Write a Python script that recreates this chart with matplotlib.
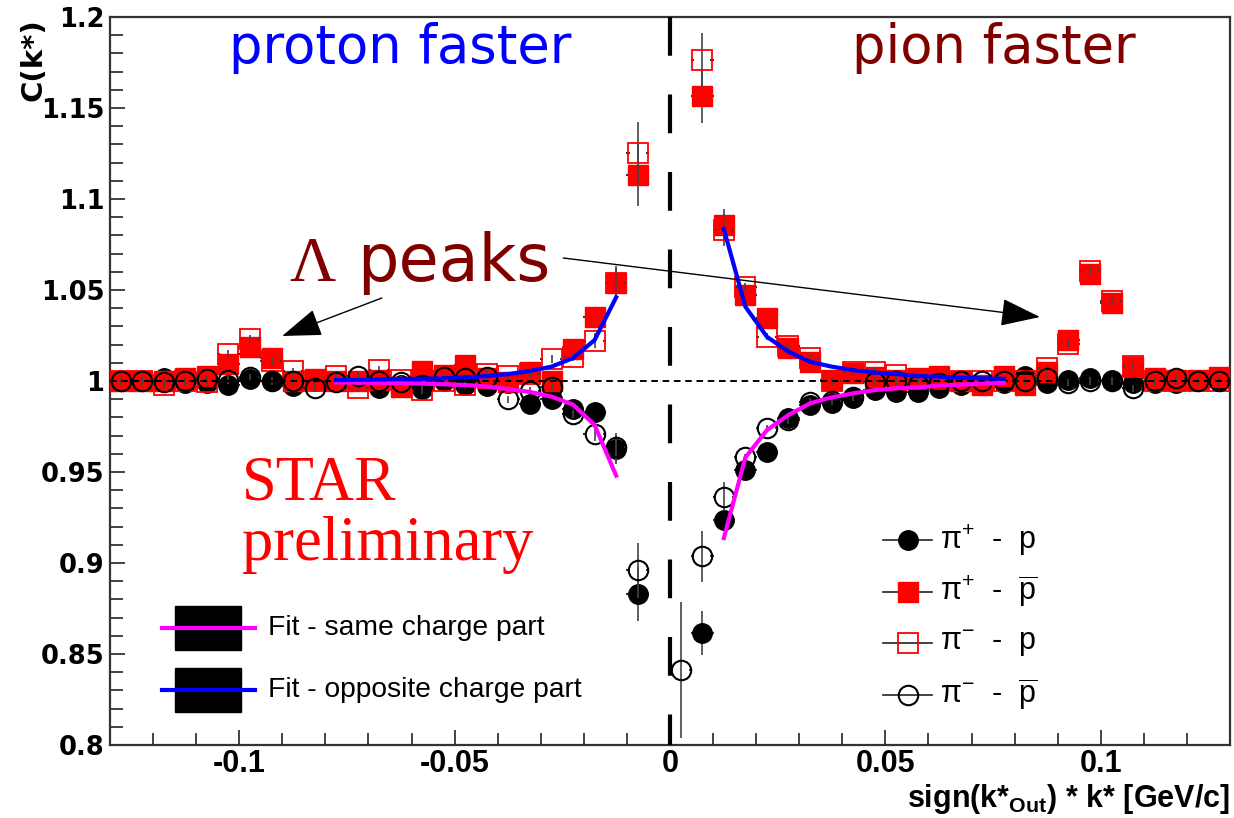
import numpy as np
import matplotlib.pyplot as plt
from matplotlib.lines import Line2D
from matplotlib.patches import Rectangle

plt.rcParams['mathtext.fontset'] = 'custom'
plt.rcParams['mathtext.rm'] = 'Liberation Sans'
plt.rcParams['mathtext.it'] = 'Liberation Sans:italic'
plt.rcParams['mathtext.bf'] = 'Liberation Sans:bold'

# bin centres of sign(k*_out)*k* [GeV/c]
k_bins = [-0.1275, -0.1225, -0.1175, -0.1125, -0.1075, -0.1025, -0.0975, -0.0925, -0.0875,
          -0.0825, -0.0775, -0.0725, -0.0675, -0.0625, -0.0575, -0.0525, -0.0475, -0.0425,
          -0.0375, -0.0325, -0.0275, -0.0225, -0.0175, -0.0125, -0.0075, -0.0025,
          0.0025, 0.0075, 0.0125, 0.0175, 0.0225, 0.0275, 0.0325, 0.0375, 0.0425, 0.0475,
          0.0525, 0.0575, 0.0625, 0.0675, 0.0725, 0.0775, 0.0825, 0.0875, 0.0925, 0.0975,
          0.1025, 0.1075, 0.1125, 0.1175, 0.1225, 0.1275]
nan = np.nan

# pi+ - p  (black filled circles)
c_pip_p = [1.0, 1.0, 1.0015, 0.999, 0.999, 0.998, 1.001, 1.0002, 0.9975, 1.0, 1.0, 1.0, 0.996,
           0.998, 0.9955, 1.0, 0.998, 0.9975, 0.999, 0.9873, 0.9901, 0.9846, 0.9828, 0.9626,
           0.883, nan,
           nan, 0.8617, 0.9236, 0.951, 0.961, 0.9797, 0.9868, 0.9879, 0.9906, 0.995, 0.9941,
           0.994, 0.996, 0.998, 0.998, 0.999, 1.0027, 0.999, 1.0005, 1.0016, 1.0005, 0.999,
           0.999, 0.999, 1.0, 1.0]
# pi+ - pbar  (red filled squares)
c_pip_pbar = [1.0, 1.0, 1.0, 1.0018, 1.003, 1.0095, 1.0187, 1.0125, 1.0, 1.001, 1.0, 1.0, 1.0005,
              0.9967, 1.0057, 1.0035, 1.0086, 1.0018, 0.9996, 1.0051, 1.0002, 1.0176, 1.035,
              1.054, 1.113, nan,
              nan, 1.1566, 1.0857, 1.047, 1.0345, 1.018, 1.0106, 1.0005, 1.0043, 1.0024, 1.0005,
              1.0016, 1.003, 1.0, 0.998, 1.003, 0.998, 1.005, 1.0225, 1.059, 1.0427, 1.0079,
              1.0016, 1.0005, 1.0005, 1.0024]
# pi- - p  (red open squares)
c_pim_p = [1.0, 1.0, 0.998, 1.0, 0.9995, 1.0148, 1.0233, 1.011, 1.0053, 1.0, 1.0026, 0.996, 1.006,
           1.0007, 0.9949, 1.0, 0.998, 1.0038, 1.0026, 1.004, 1.0121, 1.013, 1.0222, 1.054,
           1.1253, nan,
           nan, 1.1764, 1.083, 1.0516, 1.0243, 1.019, 1.0126, 1.0, 1.0049, 1.005, 1.0033, 1.001,
           1.001, 1.0, 1.0, 1.0, 1.0, 1.007, 1.0205, 1.0605, 1.044, 1.008, 1.0, 1.0, 1.0, 1.0]
# pi- - pbar  (black open circles)
c_pim_pbar = [1.0, 1.0, 0.9995, 1.0, 1.001, 1.0005, 1.002, 1.0, 1.0, 0.9963, 0.9996, 1.0027, 1.0,
              0.9996, 0.998, 1.0022, 1.0016, 1.0024, 0.990, 0.9947, 0.9965, 0.9819, 0.9709,
              0.9635, 0.896, nan,
              0.8412, 0.9038, 0.9364, 0.958, 0.974, 0.9786, 0.9886, 0.989, 0.991, 0.9996, 1.0,
              0.998, 0.999, 1.0, 1.0, 1.0, 1.0, 1.0016, 0.999, 1.0, 1.0, 0.996, 1.0, 1.0016, 1.0,
              1.0]

# statistical errors (small everywhere except close to k*=0)
err_pip_p = np.full(52, 0.002)
err_pip_p[[22, 23, 24, 27, 28]] = [0.004, 0.008, 0.015, 0.012, 0.006]
err_pip_pbar = np.full(52, 0.002)
err_pip_pbar[[22, 23, 24, 27, 28]] = [0.004, 0.009, 0.017, 0.015, 0.009]
err_pim_p = np.full(52, 0.002)
err_pim_p[[22, 23, 24, 27, 28]] = [0.004, 0.008, 0.017, 0.015, 0.009]
err_pim_pbar = np.full(52, 0.002)
err_pim_pbar[[22, 23, 24, 26, 27, 28]] = [0.004, 0.008, 0.015, 0.0375, 0.014, 0.008]

# fit curves
fit_x_left = [-0.0775, -0.0725, -0.0675, -0.0625, -0.0575, -0.0525, -0.0475, -0.0425,
              -0.0375, -0.0325, -0.0275, -0.0225, -0.0175, -0.0125]
fit_same_left = [0.9992, 0.9991, 0.999, 0.9988, 0.9986, 0.9982, 0.9978, 0.997,
                 0.9955, 0.994, 0.9914, 0.987, 0.9758, 0.948]
fit_opp_left = [1.0005, 1.0006, 1.0008, 1.001, 1.0012, 1.0015, 1.002, 1.0027,
                1.0038, 1.0055, 1.0079, 1.0126, 1.0225, 1.046]
fit_x_right = [0.0125, 0.0175, 0.0225, 0.0275, 0.0325, 0.0375, 0.0425, 0.0475,
               0.0525, 0.0575, 0.0625, 0.0675, 0.0725, 0.0775]
fit_same_right = [0.9137, 0.958, 0.973, 0.9813, 0.9877, 0.991, 0.9932, 0.995,
                  0.996, 0.9965, 0.9975, 0.998, 0.9985, 0.999]
fit_opp_right = [1.0835, 1.0408, 1.0243, 1.0161, 1.0106, 1.0079, 1.006, 1.0046,
                 1.0038, 1.0027, 1.0024, 1.0018, 1.0015, 1.0012]

W, H = 1234, 818
fig = plt.figure(figsize=(W / 100, H / 100), dpi=100)
ax = fig.add_axes([110 / W, 1 - 745 / H, 1120 / W, 728 / H])


def fpos(x, y):
    return x / W, 1 - y / H


styles = [
    (c_pip_p, err_pip_p, dict(marker='o', mfc='black', mec='black', mew=1.0)),
    (c_pip_pbar, err_pip_pbar, dict(marker='s', mfc='red', mec='red', mew=1.0)),
    (c_pim_p, err_pim_p, dict(marker='s', mfc='none', mec='red', mew=1.3)),
    (c_pim_pbar, err_pim_pbar, dict(marker='o', mfc='none', mec='black', mew=1.5)),
]
kb = np.array(k_bins)
for i, (vals, errs, st) in enumerate(styles):
    v = np.array(vals)
    ok = ~np.isnan(v)
    ax.errorbar(kb, v, yerr=errs, fmt='none', ecolor='#444444',
                elinewidth=1.2, capsize=0, zorder=2 + 2 * i)
    # small horizontal bin-width ticks at the marker edges
    ax.hlines(v[ok], kb[ok] - 0.0026, kb[ok] - 0.0019, color='#333333', lw=1.5, zorder=2 + 2 * i)
    ax.hlines(v[ok], kb[ok] + 0.0019, kb[ok] + 0.0026, color='#333333', lw=1.5, zorder=2 + 2 * i)
    ax.plot(kb, v, ls='none', ms=14, zorder=3 + 2 * i, **st)

ax.plot(fit_x_left, fit_same_left, color='#ff00ff', lw=3, zorder=12)
ax.plot(fit_x_right, fit_same_right, color='#ff00ff', lw=3, zorder=12)
ax.plot(fit_x_left, fit_opp_left, color='#0000ff', lw=3, zorder=12)
ax.plot(fit_x_right, fit_opp_right, color='#0000ff', lw=3, zorder=12)

ax.axhline(1.0, color='black', lw=1.4, dashes=(3.4, 2.4), zorder=11)
ax.plot([0, 0], [1.2, 0.8], color='black', lw=3, dashes=(9.3, 9.3), zorder=13)

ax.set_xlim(-0.13, 0.13)
ax.set_ylim(0.8, 1.2)
ax.set_xticks([-0.1, -0.05, 0, 0.05, 0.1])
ax.set_xticklabels(['-0.1', '-0.05', '0', '0.05', '0.1'])
ax.set_yticks([0.8, 0.85, 0.9, 0.95, 1.0, 1.05, 1.1, 1.15, 1.2])
ax.set_yticklabels(['0.8', '0.85', '0.9', '0.95', '1', '1.05', '1.1', '1.15', '1.2'])
ax.set_xticks(np.arange(-0.13, 0.1301, 0.01), minor=True)
ax.set_yticks(np.arange(0.8, 1.2001, 0.01), minor=True)
ax.tick_params(axis='both', which='both', direction='in', top=False, right=False,
               color='#222222', width=1.2)
ax.tick_params(axis='both', which='major', length=11)
ax.tick_params(axis='both', which='minor', length=9)
ax.tick_params(axis='y', labelsize=18.5, pad=4)
ax.tick_params(axis='x', labelsize=22, pad=3)
for lab in ax.get_yticklabels():
    lab.set_fontweight('bold')
for lab in ax.get_xticklabels():
    lab.set_fontweight('bold')
    lab.set_family('Liberation Sans')
for sp in ax.spines.values():
    sp.set_color('#333333')
    sp.set_linewidth(1.6)

fig.text(*fpos(1230, 816), r'sign(k*$_{\mathbf{Out}}$) * k* [GeV/c]', ha='right', va='bottom',
         fontsize=22, fontweight='bold', family='Liberation Sans')
fig.text(*fpos(33, 18), 'C(k*)', rotation=90, ha='center', va='top', fontsize=21,
         fontweight='bold')


def dpos(x, y):
    return (x - 672) / 4320, 1 + (381 - y) / 1820


ax.text(*dpos(230, 63), 'proton faster', color='#0000ff', fontsize=38, zorder=20)
ax.text(*dpos(855, 63), 'pion faster', color='#800000', fontsize=38, zorder=20)
ax.text(*dpos(290, 281), 'Λ', color='#800000', fontsize=46, family='Liberation Serif', zorder=20)
ax.text(*dpos(358, 281), 'peaks', color='#800000', fontsize=47, zorder=20)
ax.text(*dpos(243, 500), 'STAR', color='#ff0000', fontsize=45, family='Liberation Serif', zorder=20)
ax.text(*dpos(243, 560), 'preliminary', color='#ff0000', fontsize=45, family='Liberation Serif',
        zorder=20)

arrow = dict(arrowstyle='-|>,head_length=1.0,head_width=0.35', mutation_scale=25,
             color='black', lw=1.0, shrinkA=0, shrinkB=0)
ax.annotate('', xy=dpos(283, 336), xytext=dpos(383, 298), arrowprops=arrow, zorder=20)
ax.annotate('', xy=dpos(1043, 317), xytext=dpos(565, 258), arrowprops=arrow, zorder=20)

# legend for the four pair types
leg_rows = [540, 592, 643, 695]
leg_text = [r'π$^{+}$  -  p', r'π$^{+}$  -  $\overline{\mathrm{p}}$',
            r'π$^{-}$  -  p', r'π$^{-}$  -  $\overline{\mathrm{p}}$']
for y, txt, (_, _, st) in zip(leg_rows, leg_text, styles):
    (x0, yy), (x1, _) = fpos(883, y), fpos(932, y)
    fig.add_artist(Line2D([x0, x1], [yy, yy], color='#222222', lw=1.2))
    fig.add_artist(Line2D([(x0 + x1) / 2], [yy], ls='none', ms=14, **st))
    fig.text(*fpos(940, y), txt, va='center', fontsize=22, family='Liberation Sans')

# legend for the fits
for y, col, txt in [(628, '#ff00ff', 'Fit - same charge part'),
                    (690, '#0000ff', 'Fit - opposite charge part')]:
    bx, by = fpos(175, y + 22)
    fig.add_artist(Rectangle((bx, by), 66 / W, 44 / H, color='black'))
    (x0, yy), (x1, _) = fpos(162, y), fpos(255, y)
    fig.add_artist(Line2D([x0, x1], [yy, yy], color=col, lw=3))
    fig.text(*fpos(268, y), txt, va='center', fontsize=20.3, family='Liberation Sans')

fig.savefig('out.png', dpi=100)
